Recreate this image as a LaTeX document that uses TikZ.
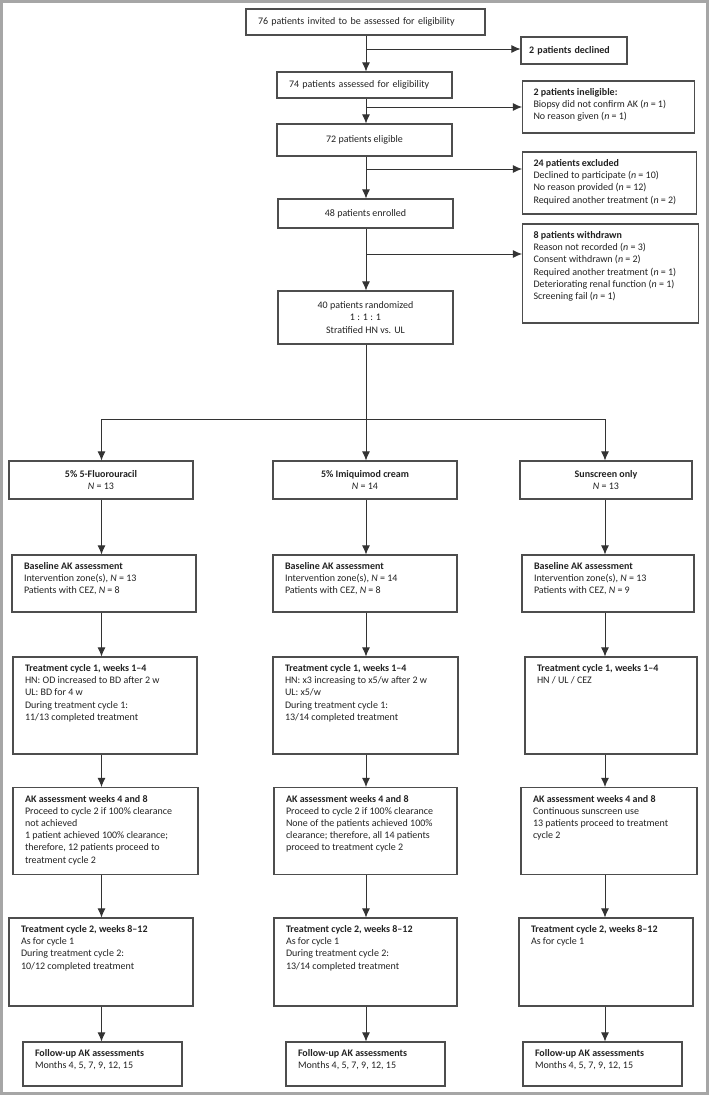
\documentclass[tikz,border=0pt]{standalone}
\usepackage{fontspec}
\setmainfont{Carlito}
\usepackage{xcolor}
\usepackage{tikz}
\usetikzlibrary{arrows.meta}
\usetikzlibrary{calc}

\definecolor{linegray}{HTML}{333333}
\definecolor{boxgray}{HTML}{4D4D4D}
\definecolor{framegray}{HTML}{A6A6A6}
\definecolor{txtgray}{HTML}{222222}

% text block, top aligned: {left}{right}{height}{text}
\newcommand{\cellbody}[4]{\parbox[c][\dimexpr#3pt-12pt\relax][t]{\dimexpr#2pt-#1pt-24pt\relax}{\strut#4}}

\begin{document}
\begin{tikzpicture}[x=1pt, y=-1pt,
   every node/.style={font=\fontsize{10}{12.2}\selectfont, text=txtgray},
   box/.style={draw=boxgray, line width=1.1pt, rectangle, inner xsep=12pt, inner ysep=6pt},
   arr/.style={draw=linegray, line width=0.9pt, -{Latex[length=9pt,width=8pt]}},
   link/.style={draw=linegray, line width=0.9pt}]

 \useasboundingbox (0,0) rectangle (709,1095);
 \draw[framegray, line width=3pt] (1.5,1.5) rectangle (707.5,1093.5);

 %screening
 \node[box, minimum width=239pt, minimum height=26pt, text width=215pt, align=left] (inv) at (365.5,22) {76 patients invited to be assessed for eligibility};
 \node[box, minimum width=175pt, minimum height=26pt, text width=151pt, align=left] (asd) at (364.5,85) {74 patients assessed for eligibility};
 \node[box, minimum width=175pt, minimum height=32pt, align=center] (elg) at (364.5,140) {72 patients eligible};
 \node[box, minimum width=175pt, minimum height=29pt, align=center] (enr) at (365.5,213.5) {48 patients enrolled};
 \node[box, minimum width=175pt, minimum height=53pt, align=center] (rnd) at (365.5,317.5) {40 patients randomized\\1 : 1 : 1\\Stratified HN vs. UL};

 %side boxes
 \node[box, minimum width=106pt, minimum height=27pt, inner xsep=8pt, text width=90pt, align=left] (dec) at (574,50.5) {\textbf{2 patients declined}};
 \node[box, inner xsep=11pt, inner ysep=6pt] (inel) at (608.5,107) {\cellbody{521}{695}{52}{\textbf{2 patients ineligible:}\\Biopsy did not confirm AK (\textit{n} = 1)\\No reason given (\textit{n} = 1)}};
 \node[box, inner xsep=11pt] (excl) at (609.5,183) {\cellbody{521}{697}{62}{\textbf{24 patients excluded}\\Declined to participate (\textit{n} = 10)\\No reason provided (\textit{n} = 12)\\Required another treatment (\textit{n} = 2)}};
 \node[box, inner xsep=11pt] (wdr) at (610.5,273.5) {\cellbody{521}{699}{99}{\textbf{8 patients withdrawn}\\Reason not recorded (\textit{n} = 3)\\Consent withdrawn (\textit{n} = 2)\\Required another treatment (\textit{n} = 1)\\Deteriorating renal function (\textit{n} = 1)\\Screening fail (\textit{n} = 1)}};

 %main line
 \coordinate (j1) at (366,49);
 \coordinate (j2) at (366,107);
 \coordinate (j3) at (366,169);
 \coordinate (j4) at (366,254);
 \draw[arr] (inv.south -| j1) -- (j1 |- asd.north);
 \draw[arr] (asd.south -| j1) -- (j1 |- elg.north);
 \draw[arr] (elg.south -| j1) -- (j1 |- enr.north);
 \draw[arr] (enr.south -| j1) -- (j1 |- rnd.north);
 \draw[arr] (j1) -- (j1 -| dec.west);
 \draw[arr] (j2) -- (j2 -| inel.west);
 \draw[arr] (j3) -- (j3 -| excl.west);
 \draw[arr] (j4) -- (j4 -| wdr.west);

 %level 2: arms
 \foreach \i/\l/\r/\txt in {1/9/193/{\textbf{5\% 5-Fluorouracil}\\\textit{N} = 13},
                            2/273/457/{\textbf{5\% Imiquimod cream}\\\textit{N} = 14},
                            3/520/692/{\textbf{Sunscreen only}\\\textit{N} = 13}} {
   \node[box, minimum width={(\r-\l)*1pt}, minimum height=38pt, align=center] (arm\i) at ({(\l+\r)/2},480) {\txt};
 }

 \foreach \i/\l/\r/\txt in {1/12/196/{\textbf{Baseline AK assessment}\\Intervention zone(s), \textit{N} = 13\\Patients with CEZ, \textit{N} = 8},
                            2/273/457/{\textbf{Baseline AK assessment}\\Intervention zone(s), \textit{N} = 14\\Patients with CEZ, \textit{N} = 8},
                            3/522/694/{\textbf{Baseline AK assessment}\\Intervention zone(s), \textit{N} = 13\\Patients with CEZ, \textit{N} = 9}} {
   \node[box] (base\i) at ({(\l+\r)/2},583.5) {\cellbody{\l}{\r}{57}{\txt}};
 }

 \foreach \i/\l/\r/\txt in {1/13/197/{\textbf{Treatment cycle 1, weeks 1--4}\\HN: OD increased to BD after 2 w\\UL: BD for 4 w\\During treatment cycle 1:\\11/13 completed treatment},
                            2/273/458/{\textbf{Treatment cycle 1, weeks 1--4}\\HN: x3 increasing to x5/w after 2 w\\UL: x5/w\\During treatment cycle 1:\\13/14 completed treatment},
                            3/525/697/{\textbf{Treatment cycle 1, weeks 1--4}\\HN / UL / CEZ}} {
   \node[box] (cycA\i) at ({(\l+\r)/2},705.5) {\cellbody{\l}{\r}{97}{\txt}};
 }

 \foreach \i/\l/\r/\txt in {1/13/198/{\textbf{AK assessment weeks 4 and 8}\\Proceed to cycle 2 if 100\% clearance\\not achieved\\1 patient achieved 100\% clearance;\\therefore, 12 patients proceed to\\treatment cycle 2},
                            2/274/457/{\textbf{AK assessment weeks 4 and 8}\\Proceed to cycle 2 if 100\% clearance\\None of the patients achieved 100\%\\clearance; therefore, all 14 patients\\proceed to treatment cycle 2},
                            3/521/697/{\textbf{AK assessment weeks 4 and 8}\\Continuous sunscreen use\\13 patients proceed to treatment\\cycle 2}} {
   \node[box] (ak\i) at ({(\l+\r)/2},831) {\cellbody{\l}{\r}{87}{\txt}};
 }

 \foreach \i/\l/\r/\txt in {1/9/193/{\textbf{Treatment cycle 2, weeks 8--12}\\As for cycle 1\\During treatment cycle 2:\\10/12 completed treatment},
                            2/274/457/{\textbf{Treatment cycle 2, weeks 8--12}\\As for cycle 1\\During treatment cycle 2:\\13/14 completed treatment},
                            3/519/693/{\textbf{Treatment cycle 2, weeks 8--12}\\As for cycle 1}} {
   \node[box] (cycB\i) at ({(\l+\r)/2},962) {\cellbody{\l}{\r}{88}{\txt}};
 }

 \foreach \i/\l/\r in {1/23/182, 2/286/445, 3/523/682} {
   \node[box] (fu\i) at ({(\l+\r)/2},1064) {\cellbody{\l}{\r}{44}{\textbf{Follow-up AK assessments}\\Months 4, 5, 7, 9, 12, 15}};
 }

 %split into arms
 \coordinate (s1) at (101.5,419);
 \coordinate (s2) at (366,419);
 \coordinate (s3) at (605,419);
 \draw[link] (rnd.south -| s2) -- (s2);
 \draw[link] (s1) -- (s3);

 %arrows down each arm
 \foreach \i in {1,2,3} {
   \draw[arr] (s\i) -- (s\i |- arm\i.north);
   \draw[arr] (arm\i.south -| s\i) -- (s\i |- base\i.north);
   \draw[arr] (base\i.south -| s\i) -- (s\i |- cycA\i.north);
   \draw[arr] (cycA\i.south -| s\i) -- (s\i |- ak\i.north);
   \draw[arr] (ak\i.south -| s\i) -- (s\i |- cycB\i.north);
   \draw[arr] (cycB\i.south -| s\i) -- (s\i |- fu\i.north);
 }
\end{tikzpicture}
\end{document}
